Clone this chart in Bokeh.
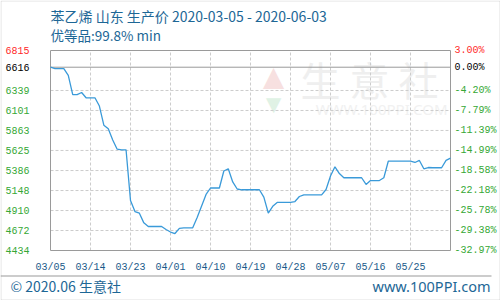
import pandas as pd
from bokeh.plotting import figure
from bokeh.models import Range1d, Label, BoxAnnotation
from bokeh.core.properties import value
from bokeh.embed import file_html
from bokeh.resources import INLINE

# ---------------- data ----------------
start_date = "2020-03-05"
prices = [
    6616, 6600, 6600, 6600, 6520, 6290, 6290, 6315, 6252, 6252,
    6252, 6154, 5926, 5883, 5749, 5640, 5633, 5633, 5030, 4898,
    4878, 4763, 4720, 4720, 4720, 4720, 4684, 4654, 4636, 4698,
    4704, 4704, 4704, 4826, 4965, 5101, 5178, 5178, 5178, 5380,
    5407, 5250, 5166, 5157, 5157, 5157, 5157, 5157, 5069, 4880,
    4960, 5006, 5006, 5006, 5006, 5017, 5077, 5097, 5097, 5097,
    5097, 5097, 5160, 5320, 5430, 5350, 5300, 5300, 5300, 5300,
    5300, 5220, 5267, 5267, 5267, 5300, 5497, 5497, 5497, 5497,
    5497, 5497, 5482, 5506, 5407, 5422, 5419, 5419, 5419, 5506,
    5533,
]
x_tick_labels = ["03/05", "03/14", "03/23", "04/01", "04/10",
                 "04/19", "04/28", "05/07", "05/16", "05/25"]
y_left_labels = ["6815", "6616", "6339", "6101", "5863", "5625",
                 "5386", "5148", "4910", "4672", "4434"]
y_right_labels = ["3.00%", "0.00%", "-4.20%", "-7.79%", "-11.39%", "-14.99%",
                  "-18.58%", "-22.18%", "-25.78%", "-29.38%", "-32.97%"]
base_price = 6616
title_text = "苯乙烯 山东 生产价 2020-03-05 - 2020-06-03"
subtitle_text = "优等品:99.8% min"
footer_left = "© 2020.06 生意社"
footer_right = "www.100PPI.com"

# ---------------- derived ----------------
t0 = pd.Timestamp(start_date)
days = list(range(len(prices)))
x_ticks = [(pd.Timestamp("2020-" + s.replace("/", "-")) - t0).days for s in x_tick_labels]
y_ticks = [int(s) for s in y_left_labels]

# page layout in pixels: plot area box inside the 500x300 canvas
W, H = 500, 300
L, R, T, B = 50, 450, 50, 250
xmin, xmax = 0, len(prices) - 1
ymin, ymax = min(y_ticks), max(y_ticks)
dx = (xmax - xmin) / (R - L)
dy = (ymax - ymin) / (B - T)

BLUE_TXT = "#1d6796"
AXIS_BLUE = "#1a5a8a"
GREEN = "#35a835"
RED = "#ff2a2a"
GRID = "#cccccc"
FRAME = "#9a9a9a"
MONO = value("Liberation Mono")

p = figure(width=W, height=H, output_backend="svg", toolbar_location=None,
           x_range=Range1d(xmin - L * dx, xmax + (W - R) * dx),
           y_range=Range1d(ymin - (H - B) * dy, ymax + T * dy),
           min_border=0, x_axis_location=None, y_axis_location=None)
p.grid.visible = False
p.outline_line_color = None
p.background_fill_color = "white"
p.border_fill_color = "white"

# watermark
p.add_layout(Label(x=273, y=76, x_units="canvas", y_units="canvas", text="▲",
                   text_font_size="36px", text_color="#f7e0e0", text_align="center",
                   text_baseline="middle", level="underlay"))
p.add_layout(Label(x=273, y=103, x_units="canvas", y_units="canvas", text="▼",
                   text_font_size="26px", text_color="#e0f2e5", text_align="center",
                   text_baseline="middle", level="underlay"))
p.add_layout(Label(x=300, y=78, x_units="canvas", y_units="canvas", text="生 意 社",
                   text_font="Noto Sans CJK SC", text_font_size="40px",
                   text_color="#efefef", text_align="left",
                   text_baseline="middle", level="underlay"))
p.add_layout(Label(x=447, y=108, x_units="canvas", y_units="canvas", text="WWW.100PPI.COM",
                   text_font="Noto Sans", text_font_size="15px", text_color="#f1f1f1",
                   text_align="right", text_baseline="middle", level="underlay"))

# grid lines
vx = x_ticks[1:]
p.segment(x0=vx, x1=vx, y0=[ymin] * len(vx), y1=[ymax] * len(vx),
          line_color=GRID, line_dash="3 2", line_width=1)
hy = [v for v in y_ticks if v not in (ymin, ymax, base_price)]
p.segment(x0=[xmin] * len(hy), x1=[xmax] * len(hy), y0=hy, y1=hy,
          line_color=GRID, line_dash="3 2", line_width=1)
p.segment(x0=[xmin], x1=[xmax], y0=[base_price], y1=[base_price],
          line_color=FRAME, line_width=1)

# plot frame
p.quad(left=[xmin], right=[xmax], bottom=[ymin], top=[ymax],
       fill_color=None, line_color=FRAME, line_width=1)

# price line
p.line(days, prices, line_color="#3a9ad9", line_width=1.3)

# tick labels
lab_colors = [RED, "black"] + [GREEN] * (len(y_ticks) - 2)
p.text(x=[xmin] * len(y_ticks), y=y_ticks, text=y_left_labels, x_offset=-45,
       text_font=MONO, text_font_size=value("10px"), text_color=lab_colors,
       text_align="left", text_baseline="middle")
p.text(x=[xmax] * len(y_ticks), y=y_ticks, text=y_right_labels, x_offset=4,
       text_font=MONO, text_font_size=value("10px"), text_color=lab_colors,
       text_align="left", text_baseline="middle")
p.text(x=x_ticks, y=[ymin] * len(x_ticks), text=x_tick_labels, y_offset=17,
       text_font=MONO, text_font_size=value("10px"), text_color=AXIS_BLUE,
       text_align="center", text_baseline="middle")

# titles
p.add_layout(Label(x=50, y=15, x_units="canvas", y_units="canvas", text=title_text,
                   text_font="Noto Sans CJK SC", text_font_size="14px", text_color=BLUE_TXT,
                   text_align="left", text_baseline="middle"))
p.add_layout(Label(x=50, y=34, x_units="canvas", y_units="canvas", text=subtitle_text,
                   text_font="Noto Sans CJK SC", text_font_size="13.5px", text_color=BLUE_TXT,
                   text_align="left", text_baseline="middle"))

# footer
p.add_layout(Label(x=10, y=285, x_units="canvas", y_units="canvas", text=footer_left,
                   text_font="Noto Sans CJK SC", text_font_size="14px", text_color=BLUE_TXT,
                   text_align="left", text_baseline="middle"))
p.add_layout(Label(x=490, y=285, x_units="canvas", y_units="canvas", text=footer_right,
                   text_font="Noto Sans", text_font_size="14.5px", text_color=BLUE_TXT,
                   text_align="right", text_baseline="middle"))
p.add_layout(BoxAnnotation(left=0, right=491, top=275, bottom=276,
                           left_units="canvas", right_units="canvas",
                           top_units="canvas", bottom_units="canvas",
                           fill_color=FRAME, fill_alpha=1, line_color=None))
p.add_layout(BoxAnnotation(left=0.5, right=499.5, top=0.5, bottom=299.5,
                           left_units="canvas", right_units="canvas",
                           top_units="canvas", bottom_units="canvas",
                           fill_alpha=0, line_color=FRAME, line_width=1))

open("out.html", "w").write(file_html(p, INLINE))
